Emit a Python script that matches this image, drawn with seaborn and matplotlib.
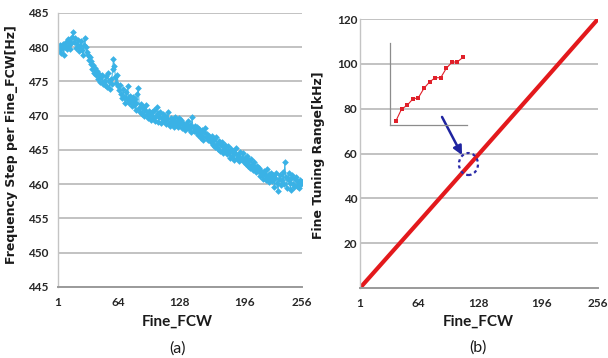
import numpy as np
import pandas as pd
import matplotlib
matplotlib.use("Agg")
import matplotlib.pyplot as plt
import seaborn as sns
from matplotlib.patches import Ellipse
from matplotlib.ticker import MultipleLocator

sns.set_style("white")
plt.rcParams['font.family'] = ['Lato', 'DejaVu Sans']

# ---------------- data ----------------
fine_fcw = list(range(1, 257))
freq_step_hz = [
    480.0, 479.6, 480.3, 479.2, 479.9, 480.5, 478.9, 480.1, 480.8, 479.7, 481.2, 480.4, 481.0, 479.8, 480.6, 481.5,
    482.2, 480.7, 481.3, 479.9, 480.5, 481.0, 479.4, 480.2, 480.9, 479.6, 478.8, 480.4, 481.4, 480.0, 479.3, 478.9,
    478.2, 478.6, 477.5, 478.0, 476.8, 477.4, 476.2, 477.0, 475.9, 476.5, 475.3, 476.1, 474.9, 475.6, 476.0, 474.6,
    475.1, 474.5, 475.8, 474.2, 476.3, 475.0, 473.9, 475.4, 474.6, 476.8, 478.3, 477.2, 475.6, 474.8, 476.0, 474.3,
    473.8, 474.5, 473.2, 472.6, 473.9, 472.8, 471.9, 473.4, 472.5, 474.3, 471.8, 472.9, 472.2, 471.4, 472.7, 471.6,
    472.4, 470.8, 471.9, 473.2, 474.0, 471.1, 470.5, 471.7, 470.3, 471.3, 469.9, 470.9, 471.5, 470.2, 469.6, 470.7,
    470.1, 469.4, 470.6, 469.7, 470.9, 469.2, 469.9, 471.3, 470.4, 469.1, 469.8, 470.5, 468.9, 469.6, 470.2, 469.3,
    469.9, 468.8, 469.5, 470.6, 469.0, 468.5, 469.7, 468.9, 469.3, 468.4, 469.8, 468.7, 469.2, 468.3, 469.6, 468.8,
    468.9, 469.4, 468.2, 469.0, 468.6, 467.9, 468.8, 468.3, 469.2, 468.0, 468.7, 467.7, 469.8, 468.4, 467.8, 468.5,
    467.6, 468.3, 467.2, 468.0, 467.5, 466.8, 467.9, 467.1, 466.5, 467.7, 468.2, 466.9, 467.3, 466.4, 467.0, 466.6,
    466.2, 467.1, 465.8, 466.6, 465.4, 466.9, 465.9, 465.2, 466.3, 464.9, 465.7, 466.1, 464.6, 465.5, 464.9, 465.8,
    465.0, 464.4, 465.6, 464.7, 463.8, 465.2, 464.1, 464.8, 463.6, 464.5, 465.3, 463.9, 464.2, 463.4, 464.7, 463.7,
    463.9, 464.6, 463.2, 463.8, 462.9, 464.1, 463.3, 462.6, 463.5, 462.3, 463.7, 462.8, 462.1, 463.2, 462.5, 461.8,
    462.7, 461.9, 462.4, 461.2, 462.0, 461.6, 460.8, 461.9, 461.3, 460.6, 462.2, 461.0, 460.4, 461.5, 460.9, 461.7,
    460.5, 461.4, 459.6, 460.9, 461.6, 460.2, 459.0, 460.8, 461.3, 459.9, 460.6, 461.8, 460.1, 463.2, 461.0, 459.5,
    460.8, 461.7, 460.2, 459.2, 460.9, 461.3, 460.0, 459.6, 460.7, 461.1, 459.8, 460.4, 459.4, 460.6, 460.1, 460.3,
]
x_ticks = [1, 64, 128, 196, 256]
y_ticks_a = [445, 450, 455, 460, 465, 470, 475, 480, 485]
y_ticks_b = [20, 40, 60, 80, 100, 120]

range_fcw = [1, 64, 128, 196, 256]
tuning_range_khz = [0.0, 29.5, 59.6, 91.6, 120.0]

inset_idx = list(range(1, 14))
inset_vals = [4.3, 16.0, 19.7, 26.0, 27.3, 36.7, 43.0, 47.3, 47.3, 56.7, 62.7, 63.3, 67.7]

df_a = pd.DataFrame({"Fine_FCW": fine_fcw, "step": freq_step_hz})
df_b = pd.DataFrame({"Fine_FCW": range_fcw, "range": tuning_range_khz})
df_in = pd.DataFrame({"i": inset_idx, "v": inset_vals})

# ---------------- figure ----------------
fig = plt.figure(figsize=(6.08, 3.58), dpi=100)
ax_a = fig.add_axes([58 / 608, 1 - 287 / 358, 244 / 608, 274 / 358])
ax_b = fig.add_axes([360 / 608, 1 - 288 / 358, 238 / 608, 269 / 358])

grid_c = '#b7b7b7'
tick_c = '#262626'


def style(ax, ypad, ylen):
    for s in ['top', 'right']:
        ax.spines[s].set_visible(False)
    ax.spines['left'].set_color('#c4c4c4')
    ax.spines['left'].set_linewidth(1.0)
    ax.spines['bottom'].set_color('#9a9a9a')
    ax.spines['bottom'].set_linewidth(1.4)
    ax.yaxis.grid(True, color=grid_c, lw=1.2)
    ax.xaxis.grid(False)
    ax.set_axisbelow(True)
    ax.tick_params(axis='y', length=ylen, color='#c4c4c4', pad=ypad,
                   labelsize=8.5, labelcolor=tick_c)
    ax.tick_params(axis='x', which='major', length=0, pad=7,
                   labelsize=8.5, labelcolor=tick_c)
    ax.xaxis.set_minor_locator(MultipleLocator(2))
    ax.tick_params(axis='x', which='minor', direction='inout', length=4.5,
                   width=0.8, color='#a8a8a8')
    for t in ax.get_xticklabels() + ax.get_yticklabels():
        t.set_fontweight('bold')
    ax.set_xlabel('')
    ax.set_ylabel('')


# panel (a)
sns.lineplot(data=df_a, x="Fine_FCW", y="step", ax=ax_a, color='#3ab2e6',
             lw=0.7, marker='D', markersize=3.4, markeredgewidth=0)
ax_a.set_xlim(1, 256)
ax_a.set_ylim(445, 485)
ax_a.set_xticks(x_ticks)
ax_a.set_yticks(y_ticks_a)
style(ax_a, 3, 4)
ax_a.text(-0.19, 0.52, 'Frequency Step per Fine_FCW[Hz]', rotation=90,
          transform=ax_a.transAxes, ha='center', va='center', fontsize=9,
          fontweight='bold', family='DejaVu Sans', color='#1a1a1a')
ax_a.text(0.49, -0.128, 'Fine_FCW', transform=ax_a.transAxes, ha='center',
          va='center', fontsize=11, fontweight='bold', color='#1a1a1a')
ax_a.text(0.49, -0.223, '(a)', transform=ax_a.transAxes, ha='center',
          va='center', fontsize=11.5, color='#1a1a1a')

# panel (b)
sns.lineplot(data=df_b, x="Fine_FCW", y="range", ax=ax_b, color='#e3191c', lw=3)
ax_b.set_xlim(1, 256)
ax_b.set_ylim(0, 120)
ax_b.set_xticks(x_ticks)
ax_b.set_yticks(y_ticks_b)
style(ax_b, 2, 0)
ax_b.text(-0.176, 0.494, 'Fine Tuning Range[kHz]', rotation=90,
          transform=ax_b.transAxes, ha='center', va='center', fontsize=9,
          fontweight='bold', family='DejaVu Sans', color='#1a1a1a')
ax_b.text(0.496, -0.126, 'Fine_FCW', transform=ax_b.transAxes, ha='center',
          va='center', fontsize=11, fontweight='bold', color='#1a1a1a')
ax_b.text(0.496, -0.223, '(b)', transform=ax_b.transAxes, ha='center',
          va='center', fontsize=11.5, color='#1a1a1a')

# zoom marker: dashed circle and arrow
ax_b.add_patch(Ellipse((117.2, 55.3), 20.4, 9.8, fill=False, ec='#2b2ba8',
                       lw=1.6, ls=(0, (1.4, 1.4)), zorder=5))
ax_b.annotate('', xy=(110.3, 59.3), xytext=(88.9, 76.3),
              arrowprops=dict(arrowstyle='-|>', color='#1f24a0', lw=1.8,
                              mutation_scale=13, shrinkA=0, shrinkB=0),
              zorder=6)

# inset
ax_in = fig.add_axes([390 / 608, 1 - 125 / 358, 77 / 608, 82 / 358])
ax_in.patch.set_alpha(0)
sns.lineplot(data=df_in, x="i", y="v", ax=ax_in, color='#e0202a', lw=0.8,
             marker='s', markersize=3, markeredgewidth=0)
ax_in.set_xlim(-0.075, 13.7)
ax_in.set_ylim(0, 82)
for s in ['top', 'right']:
    ax_in.spines[s].set_visible(False)
for s in ['left', 'bottom']:
    ax_in.spines[s].set_color('#8c8c8c')
    ax_in.spines[s].set_linewidth(0.9)
ax_in.set_xticks([])
ax_in.set_yticks([])
ax_in.set_xlabel('')
ax_in.set_ylabel('')

fig.savefig('out.png', dpi=100)
